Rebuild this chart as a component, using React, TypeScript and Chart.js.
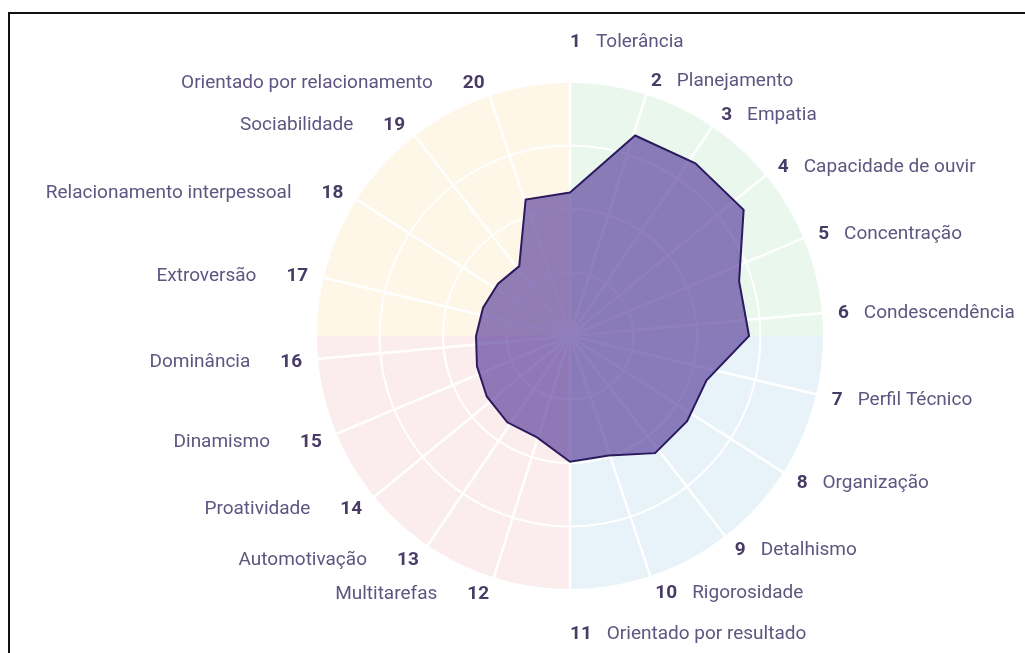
import React, { useEffect, useRef } from "react";
import { Chart, registerables } from "chart.js";

Chart.register(...registerables);

const traitNumbers = ["1", "2", "3", "4", "5", "6", "7", "8", "9", "10", "11", "12", "13", "14", "15", "16", "17", "18", "19", "20"];
const traitNames = [
  "Tolerância",
  "Planejamento",
  "Empatia",
  "Capacidade de ouvir",
  "Concentração",
  "Condescendência",
  "Perfil Técnico",
  "Organização",
  "Detalhismo",
  "Rigorosidade",
  "Orientado por resultado",
  "Multitarefas",
  "Automotivação",
  "Proatividade",
  "Dinamismo",
  "Dominância",
  "Extroversão",
  "Relacionamento interpessoal",
  "Sociabilidade",
  "Orientado por relacionamento",
];
const scores = [56.5, 83, 84, 84.5, 70, 70.5, 56.5, 57, 57, 49.5, 49.5, 42, 42, 40.5, 38.5, 37, 36, 35, 34, 56.5];
const scaleMin = 0;
const scaleMax = 100;
const scaleStep = 25;
const quadrantColors = ["#e9f7ed", "#e8f3f9", "#fbeded", "#fef7e7"];

const FONT = "Roboto, 'Noto Sans', sans-serif";
const NUM_COLOR = "#483c66";
const NAME_COLOR = "#5f5580";
const SKEW = (5.2 * Math.PI) / 180;
const LABEL_GAP = 15;
const AXIS_EXTRA = 27;
const LABEL_DY = 2;

function skewAngle(a: number) {
  const s = Math.sin(a);
  return a - SKEW * s * s;
}

const radarDecor = {
  id: "radarDecor",
  beforeDraw(chart: any) {
    const r = chart.scales.r;
    const ctx = chart.ctx;
    const cx = r.xCenter;
    const cy = r.yCenter;
    const R = r.drawingArea;
    ctx.save();
    quadrantColors.forEach((c, k) => {
      ctx.beginPath();
      ctx.moveTo(cx, cy);
      ctx.arc(cx, cy, R, -Math.PI / 2 + (k * Math.PI) / 2, -Math.PI / 2 + ((k + 1) * Math.PI) / 2);
      ctx.closePath();
      ctx.fillStyle = c;
      ctx.fill();
    });
    ctx.restore();
  },
  beforeDatasetsDraw(chart: any) {
    const r = chart.scales.r;
    const ctx = chart.ctx;
    const cx = r.xCenter;
    const cy = r.yCenter;
    const R = r.drawingArea;
    ctx.save();
    ctx.strokeStyle = "#ffffff";
    ctx.lineWidth = 2.5;
    for (let i = 0; i < traitNames.length; i++) {
      const a = skewAngle(r.getIndexAngle(i));
      ctx.beginPath();
      ctx.moveTo(cx, cy);
      ctx.lineTo(cx + R * Math.sin(a), cy - R * Math.cos(a));
      ctx.stroke();
    }
    ctx.restore();
  },
  afterDraw(chart: any) {
    const r = chart.scales.r;
    const ctx = chart.ctx;
    const cx = r.xCenter;
    const cy = r.yCenter;
    const R = r.drawingArea;
    ctx.save();
    ctx.textBaseline = "middle";
    for (let i = 0; i < traitNames.length; i++) {
      const a = skewAngle(r.getIndexAngle(i));
      const s = Math.sin(a);
      const onAxis = Math.abs(s) < 1e-3;
      const d = R + LABEL_GAP + (onAxis ? AXIS_EXTRA : 0);
      const x = cx + d * s;
      const y = cy - d * Math.cos(a) + LABEL_DY;
      const leftSide = s < -1e-3;
      ctx.font = `700 19px ${FONT}`;
      const numW = ctx.measureText(traitNumbers[i]).width;
      if (!leftSide) {
        ctx.textAlign = "left";
        ctx.fillStyle = NUM_COLOR;
        ctx.fillText(traitNumbers[i], x, y);
        ctx.font = `400 19px ${FONT}`;
        ctx.fillStyle = NAME_COLOR;
        ctx.fillText(traitNames[i], x + numW + 15, y);
      } else {
        ctx.textAlign = "right";
        ctx.fillStyle = NUM_COLOR;
        ctx.fillText(traitNumbers[i], x, y);
        ctx.font = `400 19px ${FONT}`;
        ctx.fillStyle = NAME_COLOR;
        ctx.fillText(traitNames[i], x - numW - 30, y);
      }
    }
    ctx.restore();
  },
};

export default function App() {
  const ref = useRef<HTMLCanvasElement>(null);
  useEffect(() => {
    const canvas = ref.current;
    if (!canvas) return;
    const chart = new Chart(canvas, {
      type: "radar",
      data: {
        labels: traitNames,
        datasets: [
          {
            data: scores,
            backgroundColor: "rgba(78, 48, 148, 0.62)",
            borderColor: "#2a1a5e",
            borderWidth: 2,
            pointRadius: 0,
            pointHoverRadius: 0,
            fill: true,
            tension: 0,
          },
        ],
      },
      options: {
        responsive: false,
        animation: false,
        devicePixelRatio: 1,
        layout: { padding: { left: 316, top: 82, right: 201, bottom: 63 } },
        plugins: { legend: { display: false }, tooltip: { enabled: false } },
        scales: {
          r: {
            min: scaleMin,
            max: scaleMax,
            ticks: { display: false, stepSize: scaleStep },
            grid: { circular: true, color: "#ffffff", lineWidth: 2 },
            angleLines: { display: false },
            pointLabels: { display: false },
          },
        },
      } as any,
      plugins: [radarDecor],
    });
    return () => chart.destroy();
  }, []);
  return (
    <>
      <div
        style={{
          position: "fixed",
          left: 8,
          top: 12,
          width: 1100,
          height: 800,
          border: "2px solid #111",
          boxSizing: "border-box",
        }}
      />
      <canvas ref={ref} width={1025} height={653} style={{ position: "fixed", left: 0, top: 0 }} />
    </>
  );
}
